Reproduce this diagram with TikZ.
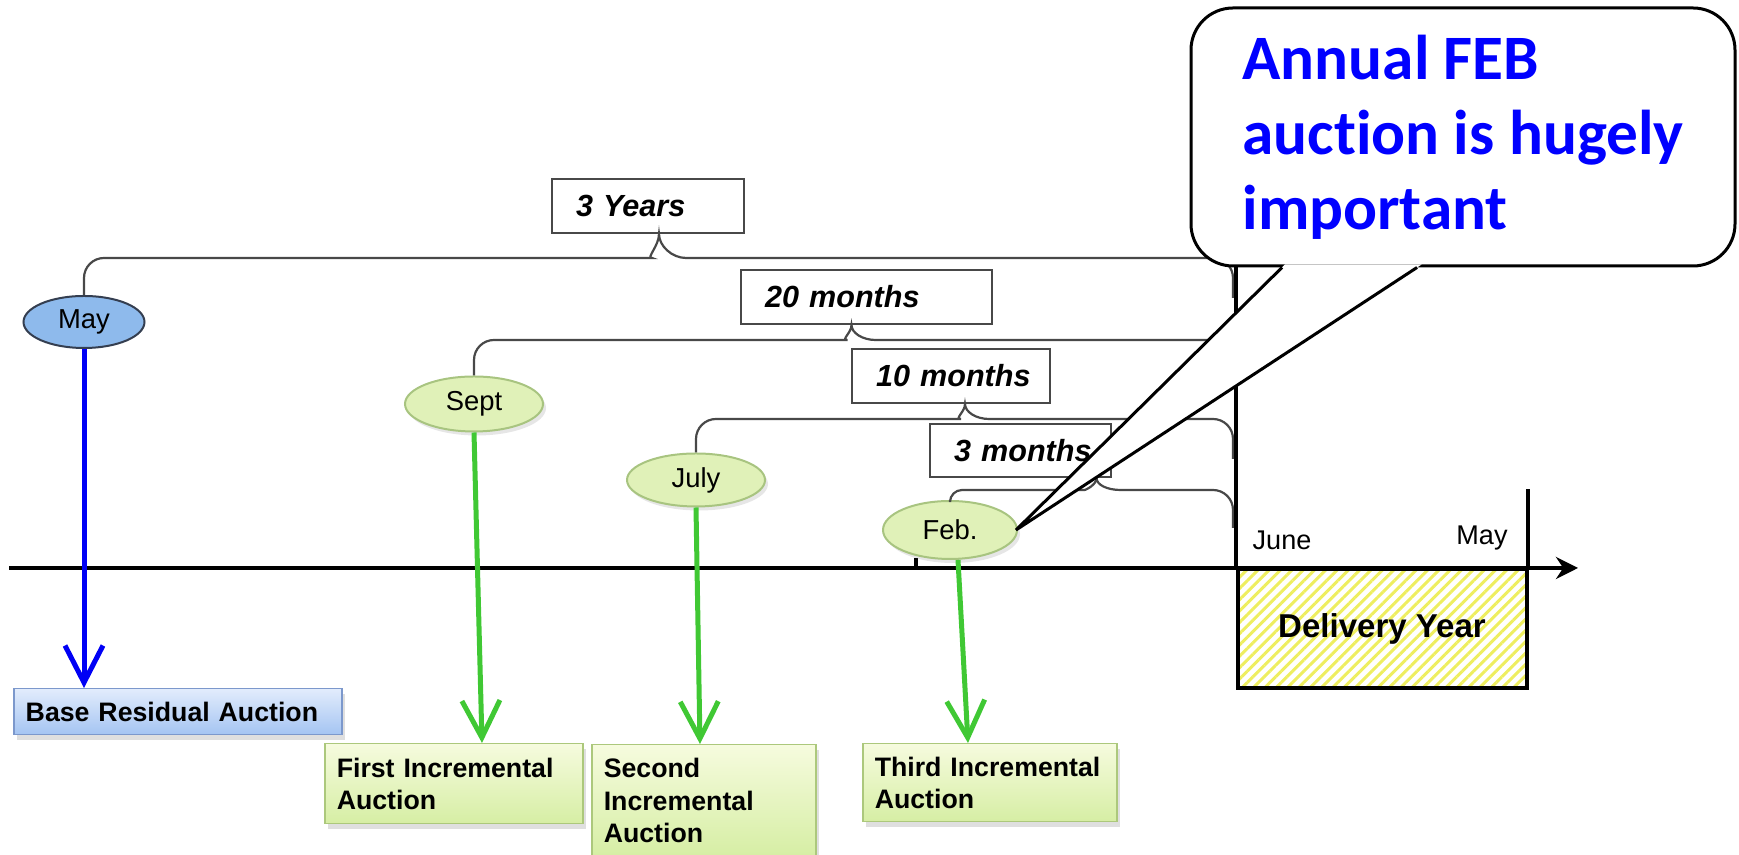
\documentclass[tikz,border=0pt]{standalone}
\usepackage{fontspec}
\setmainfont{Liberation Sans}
\newfontfamily\calloutfont[Ligatures=NoCommon]{Carlito}
\usetikzlibrary{shapes.geometric,arrows.meta,calc,patterns.meta,shadows}
\definecolor{rpm-blue}{RGB}{0,0,245}
\definecolor{rpm-green}{RGB}{64,200,52}
\definecolor{may-fill}{RGB}{142,186,236}
\definecolor{may-edge}{RGB}{52,62,80}
\definecolor{month-fill}{RGB}{224,241,184}
\definecolor{month-edge}{RGB}{168,196,128}
\definecolor{bra-top}{RGB}{226,236,252}
\definecolor{bra-bottom}{RGB}{164,196,242}
\definecolor{bra-edge}{RGB}{124,152,204}
\definecolor{inc-top}{RGB}{246,251,222}
\definecolor{inc-bottom}{RGB}{214,238,164}
\definecolor{inc-edge}{RGB}{172,200,124}
\definecolor{span-edge}{RGB}{72,72,72}
\definecolor{hatch-yellow}{RGB}{238,238,95}
\definecolor{feb-blue}{RGB}{0,0,255}

\begin{document}
\begin{tikzpicture}[x=0.1mm, y=-0.1mm,
		spanbox/.style={draw=span-edge, line width=0.2mm, fill=white, anchor=north west, inner xsep=0pt, inner ysep=0pt, align=left, minimum height=5.4mm, font=\fontsize{8.7}{10}\selectfont\bfseries\itshape, execute at begin node={\hspace*{2.4mm}}},
		spanline/.style={draw=span-edge, line width=0.22mm},
		monthell/.style={ellipse, draw=month-edge, line width=0.2mm, fill=month-fill, inner sep=0pt, font=\fontsize{7.8}{9}\selectfont, drop shadow={shadow xshift=0.3mm, shadow yshift=-0.4mm, opacity=0.2}},
		aucbox/.style={anchor=north west, align=left, inner xsep=1.2mm, inner ysep=0pt, font=\fontsize{7.6}{9.2}\selectfont\bfseries, drop shadow={shadow xshift=0.3mm, shadow yshift=-0.5mm, opacity=0.25}},
		incbox/.style={aucbox, draw=inc-edge, line width=0.15mm, top color=inc-top, bottom color=inc-bottom},
		barrow/.style={draw=rpm-blue, line width=0.5mm, -{Straight Barb[length=3.7mm, width=3.8mm]}},
		garrow/.style={draw=rpm-green, line width=0.5mm, -{Straight Barb[length=3.7mm, width=3.8mm]}},
		heavy/.style={line width=0.4mm}]
		
		\useasboundingbox (0,0) rectangle (1739,855);
		
		% Draw the time axis
		\coordinate (axstart) at (9,568);
		\coordinate (axend) at (1578,568);
		\coordinate (tick) at (916,568);
		\draw[heavy, -{Stealth[length=2.2mm, width=2.2mm]}] (axstart) -- (axend);
		\draw[line width=0.35mm] (tick) -- ++(0,-10);
		
		% Draw the span boxes
		\node (yrs3) [spanbox, text width=19.2mm] at (551,178) {3 Years};
		\node (m20) [spanbox, text width=25.1mm] at (740,269) {20 months};
		\node (m10) [spanbox, text width=19.8mm] at (851,348) {10 months};
		\node (m3) [spanbox, text width=18.1mm, minimum height=5.3mm] at (929,423) {3 months};
		
		% Draw the auction months
		\node (may) [ellipse, draw=may-edge, line width=0.2mm, fill=may-fill, inner sep=0pt, minimum width=12.1mm, minimum height=5.2mm, font=\fontsize{7.8}{9}\selectfont] at (84,322) {May};
		\node (sept) [monthell, minimum width=13.8mm, minimum height=5.5mm] at (474,404) {Sept};
		\node (july) [monthell, minimum width=13.8mm, minimum height=5.3mm] at (696,480) {July};
		\node (feb) [monthell, minimum width=13.4mm, minimum height=5.8mm] at (950,530) {Feb.};
		
		% Top of the delivery line
		\coordinate (dline) at (1236,262);
		
		% Draw the span braces
		\draw[spanline] (may.north) [rounded corners=2mm] |- ($(yrs3.south)+(-16,24)$) [sharp corners] .. controls +(14,0) and +(0,12) .. ($(yrs3.south)+(11,0)$) .. controls +(0,12) and +(-14,0) .. ($(yrs3.south)+(38,24)$) [rounded corners=2mm] ($(yrs3.south)+(38,24)$) -| ($(yrs3.south -| dline)+(-3,64)$);
		\draw[spanline] (sept.north) [rounded corners=2mm] |- ($(m20.south)+(-39,15)$) [sharp corners] .. controls +(13,0) and +(0,8) .. ($(m20.south)+(-15,0)$) .. controls +(0,8) and +(-13,0) .. ($(m20.south)+(9,15)$) [rounded corners=2mm] ($(m20.south)+(9,15)$) -| ($(m20.south -| dline)+(-3,55)$);
		\draw[spanline] (july.north) [rounded corners=2mm] |- ($(m10.south)+(-10,15)$) [sharp corners] .. controls +(13,0) and +(0,8) .. ($(m10.south)+(14,0)$) .. controls +(0,8) and +(-13,0) .. ($(m10.south)+(38,15)$) [rounded corners=2mm] ($(m10.south)+(38,15)$) -| ($(m10.south -| dline)+(-3,55)$);
		\draw[spanline] (feb.north) [rounded corners=1.2mm] |- ($(m3.south)+(52,12)$) [sharp corners] .. controls +(13,0) and +(0,7) .. ($(m3.south)+(76,0)$) .. controls +(0,7) and +(-13,0) .. ($(m3.south)+(100,12)$) [rounded corners=2mm] ($(m3.south)+(100,12)$) -| ($(m3.south -| dline)+(-3,50)$);
		
		% Draw the auction boxes
		\node (bra) [aucbox, draw=bra-edge, line width=0.15mm, top color=bra-top, bottom color=bra-bottom, text width=30.4mm, minimum height=4.6mm] at (13,688) {Base Residual Auction};
		\node (fia) [incbox, text width=23.4mm, minimum height=8mm] at (324,743) {First Incremental\\Auction};
		\node (sia) [incbox, text width=20mm, minimum height=11.2mm] at (591,744) {Second\\Incremental\\Auction};
		\node (tia) [incbox, text width=23mm, minimum height=7.8mm] at (862,743) {Third Incremental\\Auction};
		
		% Connect the months with their auctions
		\draw[barrow] (may.south) -- ($(bra.north west)+(71,0)$);
		\draw[garrow] (sept.south) -- ($(fia.north west)+(158,0)$);
		\draw[garrow] (july.south) -- ($(sia.north west)+(109,0)$);
		\draw[garrow] ($(feb.south)+(8,0)$) -- ($(tia.north west)+(106,0)$);
		
		% Draw the delivery year
		\node (dy) [draw, heavy, pattern={Lines[angle=45, distance=0.8mm, line width=0.3mm]}, pattern color=hatch-yellow, anchor=north west, minimum width=28.9mm, minimum height=11.9mm, inner sep=0pt, font=\fontsize{9.4}{11}\selectfont\bfseries] at (1236,568) {Delivery Year};
		\draw[heavy] (dline) -- (dy.north west);
		\draw[heavy] (dy.north east) -- ++(0,-79);
		\node (june) [font=\fontsize{7.7}{9}\selectfont] at (1282,540) {June};
		\node (endmay) [font=\fontsize{7.7}{9}\selectfont] at (1482,538) {May};
		
		% Draw the callout
		\node (callout) [draw, line width=0.3mm, fill=white, rounded corners=4.2mm, minimum width=54.4mm, minimum height=25.8mm, align=left, text=feb-blue, font=\calloutfont\fontsize{18}{21.3}\selectfont\bfseries] at (1463,137) {Annual FEB\\auction is hugely\\important};
		\coordinate (pb1) at ($(callout.south)+(-181,0)$);
		\coordinate (pb2) at ($(callout.south)+(-46,0)$);
		\coordinate (tip) at ($(feb.east)+(-2,0)$);
		\fill[white] ($(pb1)+(3,-3)$) -- (tip) -- ($(pb2)+(4.6,-3)$) -- cycle;
		\draw[line width=0.3mm] (pb1) -- (tip) -- (pb2);
		
	\end{tikzpicture}
\end{document}
